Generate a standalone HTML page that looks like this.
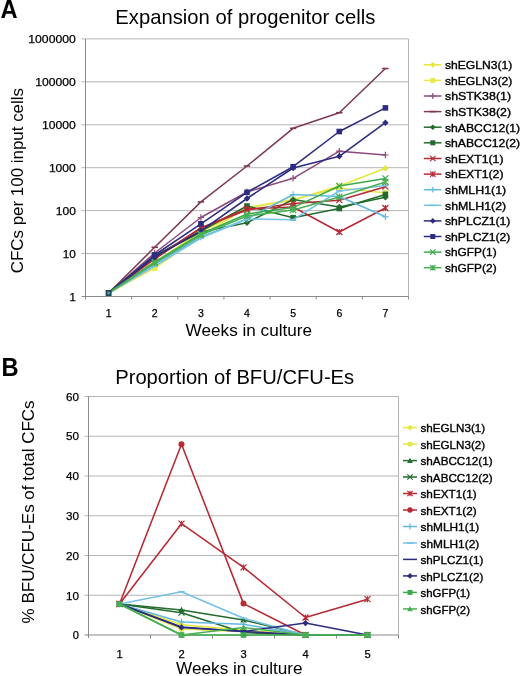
<!DOCTYPE html><html><head><meta charset="utf-8"><style>html,body{margin:0;padding:0;background:#fff;width:520px;height:676px;overflow:hidden}svg{display:block;filter:blur(0.35px)}text{font-family:"Liberation Sans",sans-serif}</style></head><body>
<svg width="520" height="676" viewBox="0 0 520 676">
<rect width="520" height="676" fill="#fff"/>
<line x1="81.5" y1="253.57" x2="408.5" y2="253.57" stroke="#b4b4b4" stroke-width="1"/>
<line x1="81.5" y1="210.63" x2="408.5" y2="210.63" stroke="#b4b4b4" stroke-width="1"/>
<line x1="81.5" y1="167.70" x2="408.5" y2="167.70" stroke="#b4b4b4" stroke-width="1"/>
<line x1="81.5" y1="124.77" x2="408.5" y2="124.77" stroke="#b4b4b4" stroke-width="1"/>
<line x1="81.5" y1="81.83" x2="408.5" y2="81.83" stroke="#b4b4b4" stroke-width="1"/>
<line x1="81.5" y1="38.90" x2="408.5" y2="38.90" stroke="#b4b4b4" stroke-width="1"/>
<line x1="408.5" y1="38.9" x2="408.5" y2="296.5" stroke="#b4b4b4" stroke-width="1"/>
<line x1="85.5" y1="38.9" x2="85.5" y2="299.5" stroke="#8a8a8a" stroke-width="1"/>
<line x1="81.5" y1="296.5" x2="408.5" y2="296.5" stroke="#8a8a8a" stroke-width="1"/>
<line x1="131.64" y1="296.5" x2="131.64" y2="299.5" stroke="#8a8a8a" stroke-width="1"/>
<line x1="177.79" y1="296.5" x2="177.79" y2="299.5" stroke="#8a8a8a" stroke-width="1"/>
<line x1="223.93" y1="296.5" x2="223.93" y2="299.5" stroke="#8a8a8a" stroke-width="1"/>
<line x1="270.07" y1="296.5" x2="270.07" y2="299.5" stroke="#8a8a8a" stroke-width="1"/>
<line x1="316.21" y1="296.5" x2="316.21" y2="299.5" stroke="#8a8a8a" stroke-width="1"/>
<line x1="362.36" y1="296.5" x2="362.36" y2="299.5" stroke="#8a8a8a" stroke-width="1"/>
<line x1="408.50" y1="296.5" x2="408.50" y2="299.5" stroke="#8a8a8a" stroke-width="1"/>
<text x="75.8" y="300.8" font-size="11" stroke="#000" stroke-width="0.25" text-anchor="end" textLength="6.3" lengthAdjust="spacingAndGlyphs">1</text>
<text x="75.8" y="257.9" font-size="11" stroke="#000" stroke-width="0.25" text-anchor="end" textLength="13.1" lengthAdjust="spacingAndGlyphs">10</text>
<text x="75.8" y="214.9" font-size="11" stroke="#000" stroke-width="0.25" text-anchor="end" textLength="20.0" lengthAdjust="spacingAndGlyphs">100</text>
<text x="75.8" y="172.0" font-size="11" stroke="#000" stroke-width="0.25" text-anchor="end" textLength="26.9" lengthAdjust="spacingAndGlyphs">1000</text>
<text x="75.8" y="129.1" font-size="11" stroke="#000" stroke-width="0.25" text-anchor="end" textLength="33.8" lengthAdjust="spacingAndGlyphs">10000</text>
<text x="75.8" y="86.1" font-size="11" stroke="#000" stroke-width="0.25" text-anchor="end" textLength="40.6" lengthAdjust="spacingAndGlyphs">100000</text>
<text x="75.8" y="43.2" font-size="11" stroke="#000" stroke-width="0.25" text-anchor="end" textLength="47.5" lengthAdjust="spacingAndGlyphs">1000000</text>
<text x="108.6" y="317" font-size="10.5" stroke="#000" stroke-width="0.25" text-anchor="middle">1</text>
<text x="154.7" y="317" font-size="10.5" stroke="#000" stroke-width="0.25" text-anchor="middle">2</text>
<text x="200.9" y="317" font-size="10.5" stroke="#000" stroke-width="0.25" text-anchor="middle">3</text>
<text x="247.0" y="317" font-size="10.5" stroke="#000" stroke-width="0.25" text-anchor="middle">4</text>
<text x="293.1" y="317" font-size="10.5" stroke="#000" stroke-width="0.25" text-anchor="middle">5</text>
<text x="339.3" y="317" font-size="10.5" stroke="#000" stroke-width="0.25" text-anchor="middle">6</text>
<text x="385.4" y="317" font-size="10.5" stroke="#000" stroke-width="0.25" text-anchor="middle">7</text>
<text x="185.6" y="336" font-size="17" textLength="126.5" lengthAdjust="spacingAndGlyphs">Weeks in culture</text>
<text transform="translate(23.4 273.2) rotate(-90)" font-size="17" textLength="185.2" lengthAdjust="spacingAndGlyphs">CFCs per 100 input cells</text>
<text x="115.3" y="24.1" font-size="19.8" textLength="260" lengthAdjust="spacingAndGlyphs">Expansion of progenitor cells</text>
<text x="0.6" y="17.6" font-size="25.5" font-weight="bold" textLength="17.1" lengthAdjust="spacingAndGlyphs">A</text>
<polyline points="108.6,293.0 154.7,262.0 200.9,232.0 247.0,208.0 293.1,200.0 339.3,186.0 385.4,168.3" fill="none" stroke="#e6e63c" stroke-width="1.55" stroke-linejoin="round"/>
<path d="M154.7 258.8L157.9 262.0L154.7 265.2L151.5 262.0Z" fill="#e6e63c"/>
<path d="M200.9 228.8L204.1 232.0L200.9 235.2L197.7 232.0Z" fill="#e6e63c"/>
<path d="M247.0 204.8L250.2 208.0L247.0 211.2L243.8 208.0Z" fill="#e6e63c"/>
<path d="M293.1 196.8L296.3 200.0L293.1 203.2L289.9 200.0Z" fill="#e6e63c"/>
<path d="M339.3 182.8L342.5 186.0L339.3 189.2L336.1 186.0Z" fill="#e6e63c"/>
<path d="M385.4 165.1L388.6 168.3L385.4 171.5L382.2 168.3Z" fill="#e6e63c"/>
<polyline points="108.6,293.0 154.7,268.0 200.9,236.0 247.0,207.5 293.1,199.5 339.3,188.0 385.4,193.0" fill="none" stroke="#e8e84e" stroke-width="1.55" stroke-linejoin="round"/>
<rect x="151.9" y="265.2" width="5.6" height="5.6" fill="#e8e84e"/>
<rect x="198.1" y="233.2" width="5.6" height="5.6" fill="#e8e84e"/>
<rect x="244.2" y="204.7" width="5.6" height="5.6" fill="#e8e84e"/>
<rect x="290.3" y="196.7" width="5.6" height="5.6" fill="#e8e84e"/>
<rect x="336.5" y="185.2" width="5.6" height="5.6" fill="#e8e84e"/>
<rect x="382.6" y="190.2" width="5.6" height="5.6" fill="#e8e84e"/>
<polyline points="108.6,293.0 154.7,253.0 200.9,217.5 247.0,192.0 293.1,178.3 339.3,151.2 385.4,155.0" fill="none" stroke="#8c4a7c" stroke-width="1.55" stroke-linejoin="round"/>
<path d="M154.7 249.8L154.7 256.2M151.5 253.0L157.9 253.0" stroke="#8c4a7c" stroke-width="1.2" fill="none"/>
<path d="M200.9 214.3L200.9 220.7M197.7 217.5L204.1 217.5" stroke="#8c4a7c" stroke-width="1.2" fill="none"/>
<path d="M247.0 188.8L247.0 195.2M243.8 192.0L250.2 192.0" stroke="#8c4a7c" stroke-width="1.2" fill="none"/>
<path d="M293.1 175.1L293.1 181.5M289.9 178.3L296.3 178.3" stroke="#8c4a7c" stroke-width="1.2" fill="none"/>
<path d="M339.3 148.0L339.3 154.4M336.1 151.2L342.5 151.2" stroke="#8c4a7c" stroke-width="1.2" fill="none"/>
<path d="M385.4 151.8L385.4 158.2M382.2 155.0L388.6 155.0" stroke="#8c4a7c" stroke-width="1.2" fill="none"/>
<polyline points="108.6,293.0 154.7,247.3 200.9,201.9 247.0,166.0 293.1,128.3 339.3,112.7 385.4,68.5" fill="none" stroke="#7d3a4e" stroke-width="1.55" stroke-linejoin="round"/>
<path d="M151.5 247.3L157.9 247.3" stroke="#7d3a4e" stroke-width="1.6" fill="none"/>
<path d="M197.7 201.9L204.1 201.9" stroke="#7d3a4e" stroke-width="1.6" fill="none"/>
<path d="M243.8 166.0L250.2 166.0" stroke="#7d3a4e" stroke-width="1.6" fill="none"/>
<path d="M289.9 128.3L296.3 128.3" stroke="#7d3a4e" stroke-width="1.6" fill="none"/>
<path d="M336.1 112.7L342.5 112.7" stroke="#7d3a4e" stroke-width="1.6" fill="none"/>
<path d="M382.2 68.5L388.6 68.5" stroke="#7d3a4e" stroke-width="1.6" fill="none"/>
<polyline points="108.6,293.0 154.7,256.0 200.9,232.0 247.0,222.7 293.1,199.5 339.3,207.0 385.4,197.3" fill="none" stroke="#236b2e" stroke-width="1.55" stroke-linejoin="round"/>
<path d="M154.7 252.8L157.9 256.0L154.7 259.2L151.5 256.0Z" fill="#236b2e"/>
<path d="M200.9 228.8L204.1 232.0L200.9 235.2L197.7 232.0Z" fill="#236b2e"/>
<path d="M247.0 219.5L250.2 222.7L247.0 225.9L243.8 222.7Z" fill="#236b2e"/>
<path d="M293.1 196.3L296.3 199.5L293.1 202.7L289.9 199.5Z" fill="#236b2e"/>
<path d="M339.3 203.8L342.5 207.0L339.3 210.2L336.1 207.0Z" fill="#236b2e"/>
<path d="M385.4 194.1L388.6 197.3L385.4 200.5L382.2 197.3Z" fill="#236b2e"/>
<polyline points="108.6,293.0 154.7,256.0 200.9,231.0 247.0,206.0 293.1,217.7 339.3,208.5 385.4,194.4" fill="none" stroke="#236b2e" stroke-width="1.55" stroke-linejoin="round"/>
<rect x="151.9" y="253.2" width="5.6" height="5.6" fill="#236b2e"/>
<rect x="198.1" y="228.2" width="5.6" height="5.6" fill="#236b2e"/>
<rect x="244.2" y="203.2" width="5.6" height="5.6" fill="#236b2e"/>
<rect x="290.3" y="214.9" width="5.6" height="5.6" fill="#236b2e"/>
<rect x="336.5" y="205.7" width="5.6" height="5.6" fill="#236b2e"/>
<rect x="382.6" y="191.6" width="5.6" height="5.6" fill="#236b2e"/>
<polyline points="108.6,293.0 154.7,258.0 200.9,228.0 247.0,210.0 293.1,203.6 339.3,200.2 385.4,186.7" fill="none" stroke="#b52a34" stroke-width="1.55" stroke-linejoin="round"/>
<path d="M151.7 255.0L157.7 261.0M157.7 255.0L151.7 261.0" stroke="#b52a34" stroke-width="1.2" fill="none"/>
<path d="M197.9 225.0L203.9 231.0M203.9 225.0L197.9 231.0" stroke="#b52a34" stroke-width="1.2" fill="none"/>
<path d="M244.0 207.0L250.0 213.0M250.0 207.0L244.0 213.0" stroke="#b52a34" stroke-width="1.2" fill="none"/>
<path d="M290.1 200.6L296.1 206.6M296.1 200.6L290.1 206.6" stroke="#b52a34" stroke-width="1.2" fill="none"/>
<path d="M336.3 197.2L342.3 203.2M342.3 197.2L336.3 203.2" stroke="#b52a34" stroke-width="1.2" fill="none"/>
<path d="M382.4 183.7L388.4 189.7M388.4 183.7L382.4 189.7" stroke="#b52a34" stroke-width="1.2" fill="none"/>
<polyline points="108.6,293.0 154.7,259.0 200.9,228.0 247.0,209.0 293.1,207.0 339.3,232.0 385.4,208.0" fill="none" stroke="#b52a34" stroke-width="1.55" stroke-linejoin="round"/>
<path d="M151.7 256.0L157.7 262.0M157.7 256.0L151.7 262.0M154.7 256.0L154.7 262.0" stroke="#b52a34" stroke-width="1.2" fill="none"/>
<path d="M197.9 225.0L203.9 231.0M203.9 225.0L197.9 231.0M200.9 225.0L200.9 231.0" stroke="#b52a34" stroke-width="1.2" fill="none"/>
<path d="M244.0 206.0L250.0 212.0M250.0 206.0L244.0 212.0M247.0 206.0L247.0 212.0" stroke="#b52a34" stroke-width="1.2" fill="none"/>
<path d="M290.1 204.0L296.1 210.0M296.1 204.0L290.1 210.0M293.1 204.0L293.1 210.0" stroke="#b52a34" stroke-width="1.2" fill="none"/>
<path d="M336.3 229.0L342.3 235.0M342.3 229.0L336.3 235.0M339.3 229.0L339.3 235.0" stroke="#b52a34" stroke-width="1.2" fill="none"/>
<path d="M382.4 205.0L388.4 211.0M388.4 205.0L382.4 211.0M385.4 205.0L385.4 211.0" stroke="#b52a34" stroke-width="1.2" fill="none"/>
<polyline points="108.6,293.0 154.7,264.0 200.9,237.0 247.0,219.0 293.1,194.5 339.3,196.5 385.4,216.8" fill="none" stroke="#62b8e0" stroke-width="1.55" stroke-linejoin="round"/>
<path d="M154.7 260.8L154.7 267.2M151.5 264.0L157.9 264.0" stroke="#62b8e0" stroke-width="1.2" fill="none"/>
<path d="M200.9 233.8L200.9 240.2M197.7 237.0L204.1 237.0" stroke="#62b8e0" stroke-width="1.2" fill="none"/>
<path d="M247.0 215.8L247.0 222.2M243.8 219.0L250.2 219.0" stroke="#62b8e0" stroke-width="1.2" fill="none"/>
<path d="M293.1 191.3L293.1 197.7M289.9 194.5L296.3 194.5" stroke="#62b8e0" stroke-width="1.2" fill="none"/>
<path d="M339.3 193.3L339.3 199.7M336.1 196.5L342.5 196.5" stroke="#62b8e0" stroke-width="1.2" fill="none"/>
<path d="M385.4 213.6L385.4 220.0M382.2 216.8L388.6 216.8" stroke="#62b8e0" stroke-width="1.2" fill="none"/>
<polyline points="108.6,293.0 154.7,266.0 200.9,238.0 247.0,219.0 293.1,219.7 339.3,191.0 385.4,185.5" fill="none" stroke="#74c2e6" stroke-width="1.55" stroke-linejoin="round"/>
<path d="M151.5 266.0L157.9 266.0" stroke="#74c2e6" stroke-width="1.6" fill="none"/>
<path d="M197.7 238.0L204.1 238.0" stroke="#74c2e6" stroke-width="1.6" fill="none"/>
<path d="M243.8 219.0L250.2 219.0" stroke="#74c2e6" stroke-width="1.6" fill="none"/>
<path d="M289.9 219.7L296.3 219.7" stroke="#74c2e6" stroke-width="1.6" fill="none"/>
<path d="M336.1 191.0L342.5 191.0" stroke="#74c2e6" stroke-width="1.6" fill="none"/>
<path d="M382.2 185.5L388.6 185.5" stroke="#74c2e6" stroke-width="1.6" fill="none"/>
<polyline points="108.6,293.0 154.7,257.0 200.9,230.8 247.0,198.5 293.1,168.0 339.3,156.3 385.4,122.7" fill="none" stroke="#2c2c80" stroke-width="1.55" stroke-linejoin="round"/>
<path d="M154.7 253.8L157.9 257.0L154.7 260.2L151.5 257.0Z" fill="#2c2c80"/>
<path d="M200.9 227.6L204.1 230.8L200.9 234.0L197.7 230.8Z" fill="#2c2c80"/>
<path d="M247.0 195.3L250.2 198.5L247.0 201.7L243.8 198.5Z" fill="#2c2c80"/>
<path d="M293.1 164.8L296.3 168.0L293.1 171.2L289.9 168.0Z" fill="#2c2c80"/>
<path d="M339.3 153.1L342.5 156.3L339.3 159.5L336.1 156.3Z" fill="#2c2c80"/>
<path d="M385.4 119.5L388.6 122.7L385.4 125.9L382.2 122.7Z" fill="#2c2c80"/>
<polyline points="108.6,293.0 154.7,255.0 200.9,223.8 247.0,192.3 293.1,166.7 339.3,131.5 385.4,107.9" fill="none" stroke="#2c2c80" stroke-width="1.55" stroke-linejoin="round"/>
<rect x="151.9" y="252.2" width="5.6" height="5.6" fill="#2c2c80"/>
<rect x="198.1" y="221.0" width="5.6" height="5.6" fill="#2c2c80"/>
<rect x="244.2" y="189.5" width="5.6" height="5.6" fill="#2c2c80"/>
<rect x="290.3" y="163.9" width="5.6" height="5.6" fill="#2c2c80"/>
<rect x="336.5" y="128.7" width="5.6" height="5.6" fill="#2c2c80"/>
<rect x="382.6" y="105.1" width="5.6" height="5.6" fill="#2c2c80"/>
<polyline points="108.6,293.0 154.7,262.0 200.9,234.0 247.0,214.0 293.1,207.6 339.3,186.0 385.4,178.4" fill="none" stroke="#3caa4a" stroke-width="1.55" stroke-linejoin="round"/>
<path d="M151.7 259.0L157.7 265.0M157.7 259.0L151.7 265.0" stroke="#3caa4a" stroke-width="1.2" fill="none"/>
<path d="M197.9 231.0L203.9 237.0M203.9 231.0L197.9 237.0" stroke="#3caa4a" stroke-width="1.2" fill="none"/>
<path d="M244.0 211.0L250.0 217.0M250.0 211.0L244.0 217.0" stroke="#3caa4a" stroke-width="1.2" fill="none"/>
<path d="M290.1 204.6L296.1 210.6M296.1 204.6L290.1 210.6" stroke="#3caa4a" stroke-width="1.2" fill="none"/>
<path d="M336.3 183.0L342.3 189.0M342.3 183.0L336.3 189.0" stroke="#3caa4a" stroke-width="1.2" fill="none"/>
<path d="M382.4 175.4L388.4 181.4M388.4 175.4L382.4 181.4" stroke="#3caa4a" stroke-width="1.2" fill="none"/>
<polyline points="108.6,293.0 154.7,263.0 200.9,235.0 247.0,216.0 293.1,210.0 339.3,197.0 385.4,182.0" fill="none" stroke="#4ab054" stroke-width="1.55" stroke-linejoin="round"/>
<path d="M151.7 260.0L157.7 266.0M157.7 260.0L151.7 266.0M154.7 260.0L154.7 266.0" stroke="#4ab054" stroke-width="1.2" fill="none"/>
<path d="M197.9 232.0L203.9 238.0M203.9 232.0L197.9 238.0M200.9 232.0L200.9 238.0" stroke="#4ab054" stroke-width="1.2" fill="none"/>
<path d="M244.0 213.0L250.0 219.0M250.0 213.0L244.0 219.0M247.0 213.0L247.0 219.0" stroke="#4ab054" stroke-width="1.2" fill="none"/>
<path d="M290.1 207.0L296.1 213.0M296.1 207.0L290.1 213.0M293.1 207.0L293.1 213.0" stroke="#4ab054" stroke-width="1.2" fill="none"/>
<path d="M336.3 194.0L342.3 200.0M342.3 194.0L336.3 200.0M339.3 194.0L339.3 200.0" stroke="#4ab054" stroke-width="1.2" fill="none"/>
<path d="M382.4 179.0L388.4 185.0M388.4 179.0L382.4 185.0M385.4 179.0L385.4 185.0" stroke="#4ab054" stroke-width="1.2" fill="none"/>
<rect x="105.6" y="290" width="6" height="6" fill="#1b4a5a"/><rect x="107.3" y="291.7" width="2.6" height="2.6" fill="#5f9ea4"/>
<line x1="423.8" y1="64.8" x2="441.5" y2="64.8" stroke="#e6e63c" stroke-width="1.5"/>
<path d="M432.8 61.9L435.7 64.8L432.8 67.7L429.9 64.8Z" fill="#e6e63c"/>
<text x="445" y="69.1" font-size="10.9" stroke="#000" stroke-width="0.35" textLength="67.3" lengthAdjust="spacingAndGlyphs">shEGLN3(1)</text>
<line x1="423.8" y1="80.4" x2="441.5" y2="80.4" stroke="#e8e84e" stroke-width="1.5"/>
<rect x="430.3" y="77.9" width="5.0" height="5.0" fill="#e8e84e"/>
<text x="445" y="84.7" font-size="10.9" stroke="#000" stroke-width="0.35" textLength="67.3" lengthAdjust="spacingAndGlyphs">shEGLN3(2)</text>
<line x1="423.8" y1="96.0" x2="441.5" y2="96.0" stroke="#8c4a7c" stroke-width="1.5"/>
<path d="M432.8 93.1L432.8 98.9M429.9 96.0L435.7 96.0" stroke="#8c4a7c" stroke-width="1.2" fill="none"/>
<text x="445" y="100.3" font-size="10.9" stroke="#000" stroke-width="0.35" textLength="66.0" lengthAdjust="spacingAndGlyphs">shSTK38(1)</text>
<line x1="423.8" y1="111.6" x2="441.5" y2="111.6" stroke="#7d3a4e" stroke-width="1.5"/>
<path d="M429.9 111.6L435.7 111.6" stroke="#7d3a4e" stroke-width="1.6" fill="none"/>
<text x="445" y="115.9" font-size="10.9" stroke="#000" stroke-width="0.35" textLength="66.0" lengthAdjust="spacingAndGlyphs">shSTK38(2)</text>
<line x1="423.8" y1="127.2" x2="441.5" y2="127.2" stroke="#236b2e" stroke-width="1.5"/>
<path d="M432.8 124.4L435.7 127.2L432.8 130.1L429.9 127.2Z" fill="#236b2e"/>
<text x="445" y="131.5" font-size="10.9" stroke="#000" stroke-width="0.35" textLength="75.1" lengthAdjust="spacingAndGlyphs">shABCC12(1)</text>
<line x1="423.8" y1="142.8" x2="441.5" y2="142.8" stroke="#236b2e" stroke-width="1.5"/>
<rect x="430.3" y="140.3" width="5.0" height="5.0" fill="#236b2e"/>
<text x="445" y="147.2" font-size="10.9" stroke="#000" stroke-width="0.35" textLength="75.1" lengthAdjust="spacingAndGlyphs">shABCC12(2)</text>
<line x1="423.8" y1="158.5" x2="441.5" y2="158.5" stroke="#b52a34" stroke-width="1.5"/>
<path d="M430.1 155.8L435.5 161.2M435.5 155.8L430.1 161.2" stroke="#b52a34" stroke-width="1.2" fill="none"/>
<text x="445" y="162.8" font-size="10.9" stroke="#000" stroke-width="0.35" textLength="58.5" lengthAdjust="spacingAndGlyphs">shEXT1(1)</text>
<line x1="423.8" y1="174.1" x2="441.5" y2="174.1" stroke="#b52a34" stroke-width="1.5"/>
<path d="M430.1 171.4L435.5 176.8M435.5 171.4L430.1 176.8M432.8 171.4L432.8 176.8" stroke="#b52a34" stroke-width="1.2" fill="none"/>
<text x="445" y="178.4" font-size="10.9" stroke="#000" stroke-width="0.35" textLength="58.5" lengthAdjust="spacingAndGlyphs">shEXT1(2)</text>
<line x1="423.8" y1="189.7" x2="441.5" y2="189.7" stroke="#62b8e0" stroke-width="1.5"/>
<path d="M432.8 186.8L432.8 192.6M429.9 189.7L435.7 189.7" stroke="#62b8e0" stroke-width="1.2" fill="none"/>
<text x="445" y="194.0" font-size="10.9" stroke="#000" stroke-width="0.35" textLength="61.2" lengthAdjust="spacingAndGlyphs">shMLH1(1)</text>
<line x1="423.8" y1="205.3" x2="441.5" y2="205.3" stroke="#74c2e6" stroke-width="1.5"/>
<path d="M429.9 205.3L435.7 205.3" stroke="#74c2e6" stroke-width="1.6" fill="none"/>
<text x="445" y="209.6" font-size="10.9" stroke="#000" stroke-width="0.35" textLength="61.2" lengthAdjust="spacingAndGlyphs">shMLH1(2)</text>
<line x1="423.8" y1="220.9" x2="441.5" y2="220.9" stroke="#2c2c80" stroke-width="1.5"/>
<path d="M432.8 218.0L435.7 220.9L432.8 223.8L429.9 220.9Z" fill="#2c2c80"/>
<text x="445" y="225.2" font-size="10.9" stroke="#000" stroke-width="0.35" textLength="65.4" lengthAdjust="spacingAndGlyphs">shPLCZ1(1)</text>
<line x1="423.8" y1="236.5" x2="441.5" y2="236.5" stroke="#2c2c80" stroke-width="1.5"/>
<rect x="430.3" y="234.0" width="5.0" height="5.0" fill="#2c2c80"/>
<text x="445" y="240.8" font-size="10.9" stroke="#000" stroke-width="0.35" textLength="65.4" lengthAdjust="spacingAndGlyphs">shPLCZ1(2)</text>
<line x1="423.8" y1="252.1" x2="441.5" y2="252.1" stroke="#3caa4a" stroke-width="1.5"/>
<path d="M430.1 249.4L435.5 254.8M435.5 249.4L430.1 254.8" stroke="#3caa4a" stroke-width="1.2" fill="none"/>
<text x="445" y="256.4" font-size="10.9" stroke="#000" stroke-width="0.35" textLength="51.6" lengthAdjust="spacingAndGlyphs">shGFP(1)</text>
<line x1="423.8" y1="267.7" x2="441.5" y2="267.7" stroke="#4ab054" stroke-width="1.5"/>
<path d="M430.1 265.0L435.5 270.4M435.5 265.0L430.1 270.4M432.8 265.0L432.8 270.4" stroke="#4ab054" stroke-width="1.2" fill="none"/>
<text x="445" y="272.0" font-size="10.9" stroke="#000" stroke-width="0.35" textLength="51.6" lengthAdjust="spacingAndGlyphs">shGFP(2)</text>
<line x1="84.5" y1="595.25" x2="398.5" y2="595.25" stroke="#b4b4b4" stroke-width="1"/>
<line x1="84.5" y1="555.50" x2="398.5" y2="555.50" stroke="#b4b4b4" stroke-width="1"/>
<line x1="84.5" y1="515.75" x2="398.5" y2="515.75" stroke="#b4b4b4" stroke-width="1"/>
<line x1="84.5" y1="476.00" x2="398.5" y2="476.00" stroke="#b4b4b4" stroke-width="1"/>
<line x1="84.5" y1="436.25" x2="398.5" y2="436.25" stroke="#b4b4b4" stroke-width="1"/>
<line x1="84.5" y1="396.50" x2="398.5" y2="396.50" stroke="#b4b4b4" stroke-width="1"/>
<line x1="398.5" y1="396.5" x2="398.5" y2="635.0" stroke="#b4b4b4" stroke-width="1"/>
<line x1="88.5" y1="396.5" x2="88.5" y2="638.0" stroke="#8a8a8a" stroke-width="1"/>
<line x1="84.5" y1="635.0" x2="398.5" y2="635.0" stroke="#8a8a8a" stroke-width="1"/>
<line x1="150.50" y1="635.0" x2="150.50" y2="638.5" stroke="#8a8a8a" stroke-width="1"/>
<line x1="212.50" y1="635.0" x2="212.50" y2="638.5" stroke="#8a8a8a" stroke-width="1"/>
<line x1="274.50" y1="635.0" x2="274.50" y2="638.5" stroke="#8a8a8a" stroke-width="1"/>
<line x1="336.50" y1="635.0" x2="336.50" y2="638.5" stroke="#8a8a8a" stroke-width="1"/>
<line x1="398.50" y1="635.0" x2="398.50" y2="638.5" stroke="#8a8a8a" stroke-width="1"/>
<text x="79" y="639.2" font-size="11.4" stroke="#000" stroke-width="0.25" text-anchor="end" textLength="6.2" lengthAdjust="spacingAndGlyphs">0</text>
<text x="79" y="599.5" font-size="11.4" stroke="#000" stroke-width="0.25" text-anchor="end" textLength="13.0" lengthAdjust="spacingAndGlyphs">10</text>
<text x="79" y="559.7" font-size="11.4" stroke="#000" stroke-width="0.25" text-anchor="end" textLength="13.0" lengthAdjust="spacingAndGlyphs">20</text>
<text x="79" y="520.0" font-size="11.4" stroke="#000" stroke-width="0.25" text-anchor="end" textLength="13.0" lengthAdjust="spacingAndGlyphs">30</text>
<text x="79" y="480.2" font-size="11.4" stroke="#000" stroke-width="0.25" text-anchor="end" textLength="13.0" lengthAdjust="spacingAndGlyphs">40</text>
<text x="79" y="440.4" font-size="11.4" stroke="#000" stroke-width="0.25" text-anchor="end" textLength="13.0" lengthAdjust="spacingAndGlyphs">50</text>
<text x="79" y="400.7" font-size="11.4" stroke="#000" stroke-width="0.25" text-anchor="end" textLength="13.0" lengthAdjust="spacingAndGlyphs">60</text>
<text x="119.5" y="657.6" font-size="11.2" stroke="#000" stroke-width="0.25" text-anchor="middle">1</text>
<text x="181.5" y="657.6" font-size="11.2" stroke="#000" stroke-width="0.25" text-anchor="middle">2</text>
<text x="243.5" y="657.6" font-size="11.2" stroke="#000" stroke-width="0.25" text-anchor="middle">3</text>
<text x="305.5" y="657.6" font-size="11.2" stroke="#000" stroke-width="0.25" text-anchor="middle">4</text>
<text x="367.5" y="657.6" font-size="11.2" stroke="#000" stroke-width="0.25" text-anchor="middle">5</text>
<text x="176.1" y="674.2" font-size="17" textLength="126.5" lengthAdjust="spacingAndGlyphs">Weeks in culture</text>
<text transform="translate(33.6 623.4) rotate(-90)" font-size="17" textLength="223" lengthAdjust="spacingAndGlyphs">% BFU/CFU-Es of total CFCs</text>
<text x="115.2" y="383.6" font-size="19.8" textLength="239" lengthAdjust="spacingAndGlyphs">Proportion of BFU/CFU-Es</text>
<text x="1.4" y="375.6" font-size="25.5" font-weight="bold" textLength="17.1" lengthAdjust="spacingAndGlyphs">B</text>
<polyline points="119.5,604.0 181.5,624.7 243.5,630.2 305.5,635.0 367.5,635.0" fill="none" stroke="#e6e63c" stroke-width="1.55" stroke-linejoin="round"/>
<path d="M119.5 600.8L122.7 604.0L119.5 607.2L116.3 604.0Z" fill="#e6e63c"/>
<path d="M181.5 621.5L184.7 624.7L181.5 627.9L178.3 624.7Z" fill="#e6e63c"/>
<path d="M243.5 627.0L246.7 630.2L243.5 633.4L240.3 630.2Z" fill="#e6e63c"/>
<path d="M305.5 631.8L308.7 635.0L305.5 638.2L302.3 635.0Z" fill="#e6e63c"/>
<path d="M367.5 631.8L370.7 635.0L367.5 638.2L364.3 635.0Z" fill="#e6e63c"/>
<polyline points="119.5,604.0 181.5,629.0 243.5,631.8 305.5,635.0 367.5,635.0" fill="none" stroke="#e8e84e" stroke-width="1.55" stroke-linejoin="round"/>
<circle cx="119.5" cy="604.0" r="3.0" fill="#e8e84e"/>
<circle cx="181.5" cy="629.0" r="3.0" fill="#e8e84e"/>
<circle cx="243.5" cy="631.8" r="3.0" fill="#e8e84e"/>
<circle cx="305.5" cy="635.0" r="3.0" fill="#e8e84e"/>
<circle cx="367.5" cy="635.0" r="3.0" fill="#e8e84e"/>
<polyline points="119.5,604.0 181.5,610.0 243.5,619.9 305.5,635.0 367.5,635.0" fill="none" stroke="#236b2e" stroke-width="1.55" stroke-linejoin="round"/>
<path d="M119.5 600.8L122.7 606.6L116.3 606.6Z" fill="#236b2e"/>
<path d="M181.5 606.8L184.7 612.5L178.3 612.5Z" fill="#236b2e"/>
<path d="M243.5 616.7L246.7 622.5L240.3 622.5Z" fill="#236b2e"/>
<path d="M305.5 631.8L308.7 637.6L302.3 637.6Z" fill="#236b2e"/>
<path d="M367.5 631.8L370.7 637.6L364.3 637.6Z" fill="#236b2e"/>
<polyline points="119.5,604.0 181.5,612.7 243.5,632.6 305.5,635.0 367.5,635.0" fill="none" stroke="#236b2e" stroke-width="1.55" stroke-linejoin="round"/>
<path d="M116.5 601.0L122.5 607.0M122.5 601.0L116.5 607.0" stroke="#236b2e" stroke-width="1.2" fill="none"/>
<path d="M178.5 609.7L184.5 615.7M184.5 609.7L178.5 615.7" stroke="#236b2e" stroke-width="1.2" fill="none"/>
<path d="M240.5 629.6L246.5 635.6M246.5 629.6L240.5 635.6" stroke="#236b2e" stroke-width="1.2" fill="none"/>
<path d="M302.5 632.0L308.5 638.0M308.5 632.0L302.5 638.0" stroke="#236b2e" stroke-width="1.2" fill="none"/>
<path d="M364.5 632.0L370.5 638.0M370.5 632.0L364.5 638.0" stroke="#236b2e" stroke-width="1.2" fill="none"/>
<polyline points="119.5,604.0 181.5,523.7 243.5,567.4 305.5,617.5 367.5,599.2" fill="none" stroke="#b52a34" stroke-width="1.55" stroke-linejoin="round"/>
<path d="M116.5 601.0L122.5 607.0M122.5 601.0L116.5 607.0M119.5 601.0L119.5 607.0" stroke="#b52a34" stroke-width="1.2" fill="none"/>
<path d="M178.5 520.7L184.5 526.7M184.5 520.7L178.5 526.7M181.5 520.7L181.5 526.7" stroke="#b52a34" stroke-width="1.2" fill="none"/>
<path d="M240.5 564.4L246.5 570.4M246.5 564.4L240.5 570.4M243.5 564.4L243.5 570.4" stroke="#b52a34" stroke-width="1.2" fill="none"/>
<path d="M302.5 614.5L308.5 620.5M308.5 614.5L302.5 620.5M305.5 614.5L305.5 620.5" stroke="#b52a34" stroke-width="1.2" fill="none"/>
<path d="M364.5 596.2L370.5 602.2M370.5 596.2L364.5 602.2M367.5 596.2L367.5 602.2" stroke="#b52a34" stroke-width="1.2" fill="none"/>
<polyline points="119.5,604.0 181.5,444.2 243.5,603.6 305.5,635.0 367.5,635.0" fill="none" stroke="#b52a34" stroke-width="1.55" stroke-linejoin="round"/>
<circle cx="119.5" cy="604.0" r="3.0" fill="#b52a34"/>
<circle cx="181.5" cy="444.2" r="3.0" fill="#b52a34"/>
<circle cx="243.5" cy="603.6" r="3.0" fill="#b52a34"/>
<circle cx="305.5" cy="635.0" r="3.0" fill="#b52a34"/>
<circle cx="367.5" cy="635.0" r="3.0" fill="#b52a34"/>
<polyline points="119.5,604.0 181.5,621.9 243.5,624.3 305.5,635.0 367.5,635.0" fill="none" stroke="#62b8e0" stroke-width="1.55" stroke-linejoin="round"/>
<path d="M119.5 600.8L119.5 607.2M116.3 604.0L122.7 604.0" stroke="#62b8e0" stroke-width="1.2" fill="none"/>
<path d="M181.5 618.7L181.5 625.1M178.3 621.9L184.7 621.9" stroke="#62b8e0" stroke-width="1.2" fill="none"/>
<path d="M243.5 621.1L243.5 627.5M240.3 624.3L246.7 624.3" stroke="#62b8e0" stroke-width="1.2" fill="none"/>
<path d="M305.5 631.8L305.5 638.2M302.3 635.0L308.7 635.0" stroke="#62b8e0" stroke-width="1.2" fill="none"/>
<path d="M367.5 631.8L367.5 638.2M364.3 635.0L370.7 635.0" stroke="#62b8e0" stroke-width="1.2" fill="none"/>
<polyline points="119.5,604.0 181.5,591.7 243.5,618.3 305.5,635.0 367.5,635.0" fill="none" stroke="#74c2e6" stroke-width="1.55" stroke-linejoin="round"/>
<path d="M116.3 604.0L122.7 604.0" stroke="#74c2e6" stroke-width="1.6" fill="none"/>
<path d="M178.3 591.7L184.7 591.7" stroke="#74c2e6" stroke-width="1.6" fill="none"/>
<path d="M240.3 618.3L246.7 618.3" stroke="#74c2e6" stroke-width="1.6" fill="none"/>
<path d="M302.3 635.0L308.7 635.0" stroke="#74c2e6" stroke-width="1.6" fill="none"/>
<path d="M364.3 635.0L370.7 635.0" stroke="#74c2e6" stroke-width="1.6" fill="none"/>
<polyline points="119.5,604.0 181.5,627.0 243.5,631.4 305.5,635.0 367.5,635.0" fill="none" stroke="#2c2c80" stroke-width="1.55" stroke-linejoin="round"/>





<polyline points="119.5,604.0 181.5,627.4 243.5,631.4 305.5,623.1 367.5,635.0" fill="none" stroke="#2c2c80" stroke-width="1.55" stroke-linejoin="round"/>
<path d="M119.5 600.8L122.7 604.0L119.5 607.2L116.3 604.0Z" fill="#2c2c80"/>
<path d="M181.5 624.2L184.7 627.4L181.5 630.6L178.3 627.4Z" fill="#2c2c80"/>
<path d="M243.5 628.2L246.7 631.4L243.5 634.6L240.3 631.4Z" fill="#2c2c80"/>
<path d="M305.5 619.9L308.7 623.1L305.5 626.3L302.3 623.1Z" fill="#2c2c80"/>
<path d="M367.5 631.8L370.7 635.0L367.5 638.2L364.3 635.0Z" fill="#2c2c80"/>
<polyline points="119.5,604.0 181.5,635.0 243.5,635.0 305.5,635.0 367.5,635.0" fill="none" stroke="#3caa4a" stroke-width="1.55" stroke-linejoin="round"/>
<rect x="116.7" y="601.2" width="5.6" height="5.6" fill="#3caa4a"/>
<rect x="178.7" y="632.2" width="5.6" height="5.6" fill="#3caa4a"/>
<rect x="240.7" y="632.2" width="5.6" height="5.6" fill="#3caa4a"/>
<rect x="302.7" y="632.2" width="5.6" height="5.6" fill="#3caa4a"/>
<rect x="364.7" y="632.2" width="5.6" height="5.6" fill="#3caa4a"/>
<polyline points="119.5,604.0 181.5,635.0 243.5,627.4 305.5,635.0 367.5,635.0" fill="none" stroke="#4ab054" stroke-width="1.55" stroke-linejoin="round"/>
<path d="M119.5 600.8L122.7 606.6L116.3 606.6Z" fill="#4ab054"/>
<path d="M181.5 631.8L184.7 637.6L178.3 637.6Z" fill="#4ab054"/>
<path d="M243.5 624.2L246.7 630.0L240.3 630.0Z" fill="#4ab054"/>
<path d="M305.5 631.8L308.7 637.6L302.3 637.6Z" fill="#4ab054"/>
<path d="M367.5 631.8L370.7 637.6L364.3 637.6Z" fill="#4ab054"/>
<line x1="403" y1="427.6" x2="417" y2="427.6" stroke="#e6e63c" stroke-width="1.5"/>
<path d="M410.0 424.7L412.9 427.6L410.0 430.5L407.1 427.6Z" fill="#e6e63c"/>
<text x="420.5" y="432.4" font-size="10.7" stroke="#000" stroke-width="0.35" textLength="64.6" lengthAdjust="spacingAndGlyphs">shEGLN3(1)</text>
<line x1="403" y1="444.1" x2="417" y2="444.1" stroke="#e8e84e" stroke-width="1.5"/>
<circle cx="410.0" cy="444.1" r="2.7" fill="#e8e84e"/>
<text x="420.5" y="448.9" font-size="10.7" stroke="#000" stroke-width="0.35" textLength="64.6" lengthAdjust="spacingAndGlyphs">shEGLN3(2)</text>
<line x1="403" y1="460.6" x2="417" y2="460.6" stroke="#236b2e" stroke-width="1.5"/>
<path d="M410.0 457.7L412.9 462.9L407.1 462.9Z" fill="#236b2e"/>
<text x="420.5" y="465.4" font-size="10.7" stroke="#000" stroke-width="0.35" textLength="72.1" lengthAdjust="spacingAndGlyphs">shABCC12(1)</text>
<line x1="403" y1="477.0" x2="417" y2="477.0" stroke="#236b2e" stroke-width="1.5"/>
<path d="M407.3 474.3L412.7 479.7M412.7 474.3L407.3 479.7" stroke="#236b2e" stroke-width="1.2" fill="none"/>
<text x="420.5" y="481.8" font-size="10.7" stroke="#000" stroke-width="0.35" textLength="72.1" lengthAdjust="spacingAndGlyphs">shABCC12(2)</text>
<line x1="403" y1="493.5" x2="417" y2="493.5" stroke="#b52a34" stroke-width="1.5"/>
<path d="M407.3 490.8L412.7 496.2M412.7 490.8L407.3 496.2M410.0 490.8L410.0 496.2" stroke="#b52a34" stroke-width="1.2" fill="none"/>
<text x="420.5" y="498.3" font-size="10.7" stroke="#000" stroke-width="0.35" textLength="56.1" lengthAdjust="spacingAndGlyphs">shEXT1(1)</text>
<line x1="403" y1="510.0" x2="417" y2="510.0" stroke="#b52a34" stroke-width="1.5"/>
<circle cx="410.0" cy="510.0" r="2.7" fill="#b52a34"/>
<text x="420.5" y="514.8" font-size="10.7" stroke="#000" stroke-width="0.35" textLength="56.1" lengthAdjust="spacingAndGlyphs">shEXT1(2)</text>
<line x1="403" y1="526.5" x2="417" y2="526.5" stroke="#62b8e0" stroke-width="1.5"/>
<path d="M410.0 523.6L410.0 529.4M407.1 526.5L412.9 526.5" stroke="#62b8e0" stroke-width="1.2" fill="none"/>
<text x="420.5" y="531.3" font-size="10.7" stroke="#000" stroke-width="0.35" textLength="58.7" lengthAdjust="spacingAndGlyphs">shMLH1(1)</text>
<line x1="403" y1="543.0" x2="417" y2="543.0" stroke="#74c2e6" stroke-width="1.5"/>
<path d="M407.1 543.0L412.9 543.0" stroke="#74c2e6" stroke-width="1.6" fill="none"/>
<text x="420.5" y="547.8" font-size="10.7" stroke="#000" stroke-width="0.35" textLength="58.7" lengthAdjust="spacingAndGlyphs">shMLH1(2)</text>
<line x1="403" y1="559.4" x2="417" y2="559.4" stroke="#2c2c80" stroke-width="1.5"/>

<text x="420.5" y="564.2" font-size="10.7" stroke="#000" stroke-width="0.35" textLength="62.8" lengthAdjust="spacingAndGlyphs">shPLCZ1(1)</text>
<line x1="403" y1="575.9" x2="417" y2="575.9" stroke="#2c2c80" stroke-width="1.5"/>
<path d="M410.0 573.0L412.9 575.9L410.0 578.8L407.1 575.9Z" fill="#2c2c80"/>
<text x="420.5" y="580.7" font-size="10.7" stroke="#000" stroke-width="0.35" textLength="62.8" lengthAdjust="spacingAndGlyphs">shPLCZ1(2)</text>
<line x1="403" y1="592.4" x2="417" y2="592.4" stroke="#3caa4a" stroke-width="1.5"/>
<rect x="407.5" y="589.9" width="5.0" height="5.0" fill="#3caa4a"/>
<text x="420.5" y="597.2" font-size="10.7" stroke="#000" stroke-width="0.35" textLength="49.5" lengthAdjust="spacingAndGlyphs">shGFP(1)</text>
<line x1="403" y1="608.9" x2="417" y2="608.9" stroke="#4ab054" stroke-width="1.5"/>
<path d="M410.0 606.0L412.9 611.2L407.1 611.2Z" fill="#4ab054"/>
<text x="420.5" y="613.7" font-size="10.7" stroke="#000" stroke-width="0.35" textLength="49.5" lengthAdjust="spacingAndGlyphs">shGFP(2)</text>
</svg></body></html>
